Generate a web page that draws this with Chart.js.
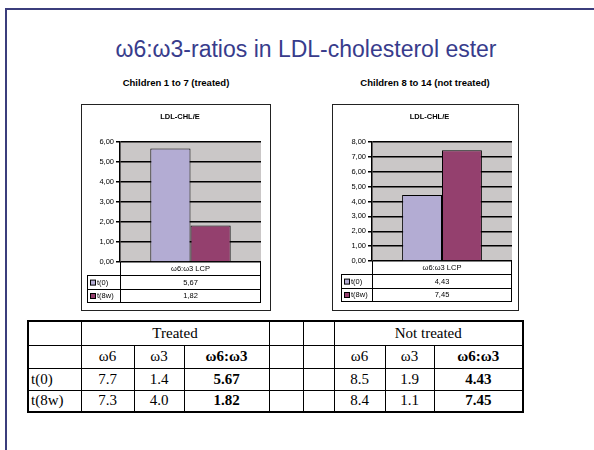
<!DOCTYPE html>
<html>
<head>
<meta charset="utf-8">
<script src="https://cdn.jsdelivr.net/npm/chart.js@4"></script>
<style>
  body { margin: 0; background: #fff; width: 594px; height: 450px; position: relative; overflow: hidden; font-family: "Liberation Sans", Arial, sans-serif; }
  .frameL { position: absolute; left: 5px; top: 8px; width: 2px; height: 442px; background: #3b3d7c; }
  .frameT { position: absolute; left: 5px; top: 8px; width: 589px; height: 2px; background: #3b3d7c; }
  #title { position: absolute; left: 0; width: 612px; top: 36px; text-align: center; font-size: 23px; color: #383c8c; }
  .sub { position: absolute; top: 77px; font-size: 9.5px; font-weight: bold; text-align: center; width: 200px; }
  .box { position: absolute; border: 1px solid #222; background: #fff; }
  .box canvas { display: block; }
  table { position: absolute; left: 27px; top: 320px; border-collapse: collapse; font-family: "Liberation Serif", "Times New Roman", serif; font-size: 15px; border: 2px solid #000; }
  td { border: 1px solid #000; padding: 0; text-align: center; }
  td.l { text-align: left; padding-left: 2px; }
  td.b { font-weight: bold; }
</style>
</head>
<body>
<div class="frameL"></div>
<div class="frameT"></div>
<div id="title">ω6:ω3-ratios in LDL-cholesterol ester</div>
<div class="sub" style="left:76px">Children 1 to 7 (treated)</div>
<div class="sub" style="left:325px">Children 8 to 14 (not treated)</div>

<div class="box" style="left:81px;top:104px;width:188px;height:205px"><canvas id="c1" width="188" height="205"></canvas></div>
<div class="box" style="left:332px;top:104px;width:185px;height:205px"><canvas id="c2" width="185" height="205"></canvas></div>

<table id="tbl">
  <colgroup>
    <col style="width:53px"><col style="width:53px"><col style="width:50px"><col style="width:85px">
    <col style="width:34px"><col style="width:31px">
    <col style="width:51px"><col style="width:49px"><col style="width:89px">
  </colgroup>
  <tbody></tbody>
</table>

<script>
const chartTitle = 'LDL-CHL/E';
const category = ['ω6:ω3 LCP'];
const series = ['t(0)', 't(8w)'];
const seriesColors = ['#b3acd3', '#94406e'];

const treatedRatio = [5.67, 1.82];
const notTreatedRatio = [4.43, 7.45];

const treatedW6 = [7.7, 7.3];
const treatedW3 = [1.4, 4.0];
const notTreatedW6 = [8.5, 8.4];
const notTreatedW3 = [1.9, 1.1];

const groupHeaders = ['Treated', 'Not treated'];
const colHeaders = ['ω6', 'ω3', 'ω6:ω3'];

function comma(v) {
    return v.toFixed(2).replace('.', ',');
}

const ldlPlugin = {
    id: 'ldlTable',
    beforeDraw(chart) {
        const a = chart.chartArea;
        const ctx = chart.ctx;
        ctx.save();
        ctx.fillStyle = '#cac7c7';
        ctx.fillRect(a.left, a.top, a.right - a.left, a.bottom - a.top);
        ctx.restore();
    },
    afterDraw(chart, args, opts) {
        const a = chart.chartArea;
        const ctx = chart.ctx;
        const rh = 13.4;
        const L = opts.legendLeft;
        const y0 = a.bottom;
        ctx.save();
        // title
        ctx.fillStyle = '#000';
        ctx.font = 'bold 7.5px "Liberation Sans", Arial';
        ctx.textAlign = 'center';
        ctx.textBaseline = 'middle';
        ctx.fillText(chartTitle, chart.width / 2 + 4, 12);

        // data table under the plot
        ctx.strokeStyle = '#000';
        ctx.lineWidth = 1;
        ctx.beginPath();
        for (let i = 1; i <= 3; i++) {
            const y = Math.round(y0 + rh * i) + 0.5;
            ctx.moveTo(L, y);
            ctx.lineTo(a.right, y);
        }
        const yEnd = Math.round(y0 + rh * 3) + 0.5;
        ctx.moveTo(Math.round(a.left) + 0.5, y0);
        ctx.lineTo(Math.round(a.left) + 0.5, yEnd);
        ctx.moveTo(Math.round(a.right) - 0.5, y0);
        ctx.lineTo(Math.round(a.right) - 0.5, yEnd);
        ctx.moveTo(L + 0.5, Math.round(y0 + rh) + 0.5);
        ctx.lineTo(L + 0.5, yEnd);
        ctx.stroke();

        ctx.font = '7.5px "Liberation Sans", Arial';
        const cx = (a.left + a.right) / 2;
        ctx.fillText(chart.data.labels[0], cx, y0 + rh * 0.5 + 0.5);
        chart.data.datasets.forEach(function (ds, i) {
            const ry = y0 + rh * (i + 1.5) + 0.5;
            ctx.textAlign = 'center';
            ctx.fillText(comma(ds.data[0]), cx, ry);
            ctx.fillStyle = ds.backgroundColor;
            ctx.fillRect(L + 3, ry - 2.5, 5, 5);
            ctx.strokeRect(L + 3.5, ry - 2.5, 5, 5);
            ctx.fillStyle = '#000';
            ctx.textAlign = 'left';
            ctx.fillText(ds.label, L + 10, ry);
        });
        ctx.restore();
    }
};

function makeChart(id, values, yMax, axisWidth, pad, legendLeft) {
    const ctx = document.getElementById(id).getContext('2d');
    return new Chart(ctx, {
        type: 'bar',
        data: {
            labels: category,
            datasets: series.map(function (s, i) {
                return {
                    label: s,
                    data: [values[i]],
                    backgroundColor: seriesColors[i],
                    borderColor: '#000',
                    borderWidth: 1,
                    categoryPercentage: 0.57,
                    barPercentage: 1.0
                };
            })
        },
        options: {
            responsive: false,
            animation: false,
            layout: { padding: pad },
            plugins: {
                legend: { display: false },
                tooltip: { enabled: false },
                ldlTable: { legendLeft: legendLeft }
            },
            scales: {
                x: { display: false },
                y: {
                    min: 0,
                    max: yMax,
                    ticks: {
                        stepSize: 1,
                        color: '#000',
                        padding: 2,
                        font: { family: '"Liberation Sans", Arial', size: 7.5 },
                        callback: function (v) { return comma(v); }
                    },
                    grid: { color: '#000', lineWidth: 1.5, tickLength: 4 },
                    border: { display: true, color: '#000', width: 1.5 },
                    afterFit: function (scale) { scale.width = axisWidth; }
                }
            }
        },
        plugins: [ldlPlugin]
    });
}

makeChart('c1', treatedRatio, 6, 38, { left: 0, top: 37, right: 9, bottom: 48 }, 5);
makeChart('c2', notTreatedRatio, 8, 39, { left: 0, top: 37, right: 6, bottom: 49 }, 8);

// summary table
const tbody = document.querySelector('#tbl tbody');
function row(cells, h) {
    const tr = document.createElement('tr');
    tr.style.height = h + 'px';
    cells.forEach(function (c) {
        const td = document.createElement('td');
        td.textContent = c.t || '';
        if (c.span) td.colSpan = c.span;
        if (c.cls) td.className = c.cls;
        tr.appendChild(td);
    });
    tbody.appendChild(tr);
}
row([{}, { t: groupHeaders[0], span: 3 }, {}, {}, { t: groupHeaders[1], span: 3 }], 24);
row([{}, { t: colHeaders[0] }, { t: colHeaders[1] }, { t: colHeaders[2], cls: 'b' }, {}, {},
     { t: colHeaders[0] }, { t: colHeaders[1] }, { t: colHeaders[2], cls: 'b' }], 23);
series.forEach(function (s, i) {
    row([{ t: s, cls: 'l' },
         { t: treatedW6[i].toFixed(1) }, { t: treatedW3[i].toFixed(1) }, { t: treatedRatio[i].toFixed(2), cls: 'b' },
         {}, {},
         { t: notTreatedW6[i].toFixed(1) }, { t: notTreatedW3[i].toFixed(1) }, { t: notTreatedRatio[i].toFixed(2), cls: 'b' }], 22);
});
</script>
</body>
</html>
